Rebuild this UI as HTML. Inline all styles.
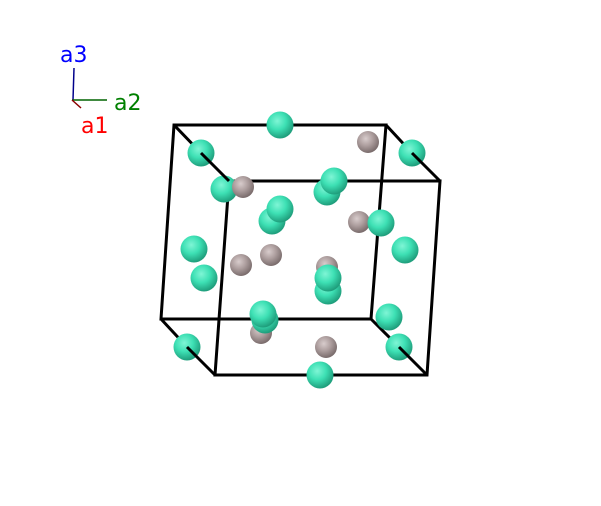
<!DOCTYPE html>
<html><head><style>body{margin:0;background:#fff}</style></head><body>
<svg width="601" height="501" viewBox="0 0 601 501" xmlns="http://www.w3.org/2000/svg">
<defs>
<radialGradient id="t" cx="0.4" cy="0.35" r="0.65"><stop offset="0" stop-color="#7ff5d5"/><stop offset="0.5" stop-color="#3de0b4"/><stop offset="1" stop-color="#1f9e7c"/></radialGradient>
<radialGradient id="g" cx="0.4" cy="0.35" r="0.65"><stop offset="0" stop-color="#d8cccc"/><stop offset="0.5" stop-color="#ad9e9e"/><stop offset="1" stop-color="#7a6c6c"/></radialGradient>
</defs>
<g stroke="#000" stroke-width="3" fill="none">
<polygon points="174,125 386,125 371,319 161,319"/>
<polygon points="229,181 440,181 427,375 215,375"/>
<line x1="174" y1="125" x2="201" y2="153"/><line x1="386" y1="125" x2="412" y2="153"/>
<line x1="161" y1="319" x2="187" y2="347"/><line x1="371" y1="319" x2="399" y2="347"/>
</g>
<g fill="url(#g)">
<circle cx="368" cy="142" r="11"/><circle cx="359" cy="222" r="11"/><circle cx="327" cy="267" r="11"/><circle cx="261" cy="333" r="11"/>
</g>
<g fill="url(#t)">
<circle cx="280" cy="125" r="13.5"/><circle cx="201" cy="153" r="13.5"/><circle cx="412" cy="153" r="13.5"/><circle cx="224" cy="189" r="13.5"/>
<circle cx="327" cy="192" r="13.5"/><circle cx="334" cy="181" r="13.5"/><circle cx="272" cy="221" r="13.5"/><circle cx="280" cy="209" r="13.5"/>
<circle cx="381" cy="223" r="13.5"/><circle cx="194" cy="249" r="13.5"/><circle cx="405" cy="250" r="13.5"/><circle cx="204" cy="278" r="13.5"/>
<circle cx="328" cy="291" r="13.5"/><circle cx="328" cy="278" r="13.5"/><circle cx="389" cy="317" r="13.5"/><circle cx="265" cy="320" r="13.5"/>
<circle cx="263" cy="314" r="13.5"/><circle cx="187" cy="347" r="13.5"/><circle cx="399" cy="347" r="13.5"/><circle cx="320" cy="375" r="13.5"/>
</g>
<g fill="url(#g)">
<circle cx="243" cy="187" r="11"/><circle cx="241" cy="265" r="11"/><circle cx="271" cy="255" r="11"/><circle cx="326" cy="347" r="11"/>
</g>
<g stroke="#000" stroke-width="3">
<line x1="201" y1="153" x2="229" y2="181"/><line x1="412" y1="153" x2="440" y2="181"/>
<line x1="187" y1="347" x2="215" y2="375"/><line x1="399" y1="347" x2="427" y2="375"/>
</g>
<line x1="73" y1="100" x2="74" y2="68" stroke="#00008b" stroke-width="1.5"/>
<line x1="72" y1="100" x2="107" y2="100" stroke="#006400" stroke-width="1.5"/>
<line x1="72" y1="100" x2="81" y2="108" stroke="#8b0000" stroke-width="1.5"/>
<g font-family="DejaVu Sans, sans-serif" font-size="22">
<text x="60" y="62" fill="#0000ff">a3</text>
<text x="114" y="110" fill="#008000">a2</text>
<text x="81" y="133" fill="#ff0000">a1</text>
</g>
</svg>
</body></html>
